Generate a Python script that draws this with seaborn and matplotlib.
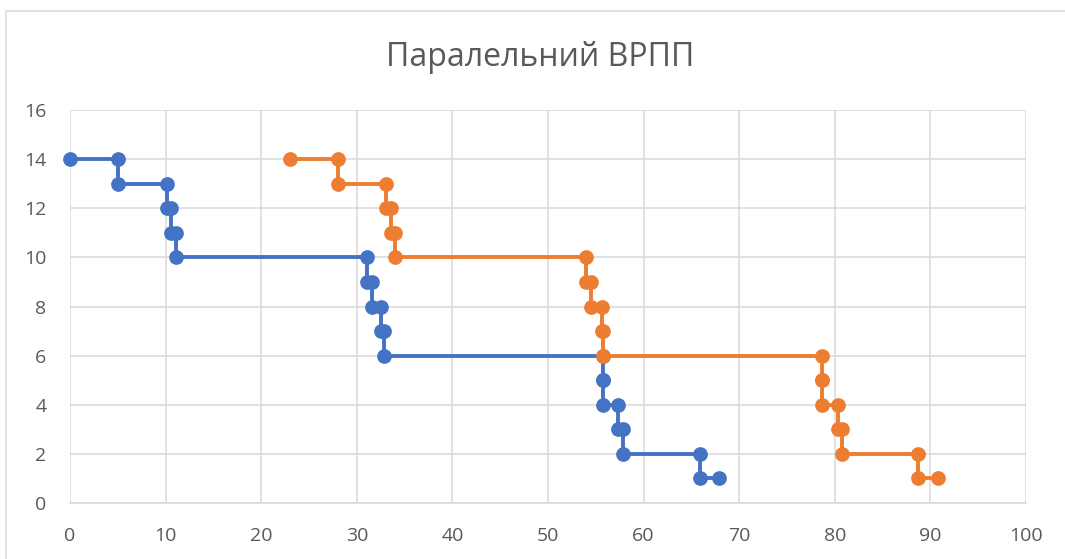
import matplotlib
matplotlib.use("Agg")
import matplotlib.pyplot as plt
from matplotlib.patches import Rectangle
import numpy as np
import pandas as pd
import seaborn as sns

# Step levels (number of remaining tasks) and the time at which each level starts / ends
levels = [14, 13, 12, 11, 10, 9, 8, 7, 6, 5, 4, 3, 2, 1]

blue_start = [0, 5, 10.1, 10.6, 11.1, 31.05, 31.6, 32.5, 32.8, 55.8, 55.8, 57.3, 57.8, 65.9]
blue_end = [5, 10.1, 10.6, 11.1, 31.05, 31.6, 32.5, 32.8, 55.8, 55.8, 57.3, 57.8, 65.9, 67.9]

orange_start = [23, 28, 33.05, 33.6, 34.0, 54.0, 54.5, 55.6, 55.75, 78.7, 78.7, 80.3, 80.8, 88.75]
orange_end = [28, 33.05, 33.6, 34.0, 54.0, 54.5, 55.6, 55.75, 78.7, 78.7, 80.3, 80.8, 88.75, 90.8]

series_names = ["Ряд1", "Ряд2"]
series_colors = ["#4472C4", "#ED7D31"]

x_ticks = list(range(0, 101, 10))
y_ticks = list(range(0, 17, 2))
title_text = "Паралельний ВРПП"


def step_points(name, starts, ends):
    rows = []
    for lvl, s, e in zip(levels, starts, ends):
        rows.append((name, s, lvl))
        rows.append((name, e, lvl))
    return rows


rows = step_points(series_names[0], blue_start, blue_end) + \
    step_points(series_names[1], orange_start, orange_end)
df = pd.DataFrame(rows, columns=["series", "x", "y"])

sns.set_theme(style="white")
plt.rcParams["font.family"] = ["Open Sans", "DejaVu Sans"]

fig = plt.figure(figsize=(10.65, 5.59), dpi=100)
fig.patch.set_facecolor("white")

# outer chart frame
fig.add_artist(Rectangle((6 / 1065, -0.05), 1.2, 1 - 11 / 559 + 0.05,
                         transform=fig.transFigure, fill=False,
                         edgecolor="#D9D9D9", linewidth=1.1, zorder=0))

ax = fig.add_axes([70 / 1065, 1 - 503 / 559, (1026 - 70) / 1065, (503 - 110) / 559])

sns.lineplot(data=df, x="x", y="y", hue="series", palette=series_colors,
             hue_order=series_names, sort=False, estimator=None, units="series",
             marker="o", markersize=10.6, markeredgewidth=0, linewidth=2.8,
             legend=False, ax=ax, zorder=3, clip_on=False)

ax.set_xlim(0, 100)
ax.set_ylim(0, 16)
ax.set_xticks(x_ticks)
ax.set_yticks(y_ticks)
ax.set_xlabel("")
ax.set_ylabel("")
ax.grid(True, color="#D9D9D9", linewidth=1.1, zorder=0)
ax.set_axisbelow(True)
for side in ["top", "right", "left"]:
    ax.spines[side].set_visible(False)
ax.spines["bottom"].set_color("#D9D9D9")
ax.spines["bottom"].set_linewidth(1.1)
ax.tick_params(axis="both", length=0, labelsize=14, labelcolor="#595959")
ax.tick_params(axis="x", pad=17)
ax.tick_params(axis="y", pad=17)

fig.text(540 / 1065, 1 - 57 / 559, title_text, ha="center", va="center",
         fontsize=23, color="#595959")

fig.savefig("out.png", dpi=100, facecolor="white")
